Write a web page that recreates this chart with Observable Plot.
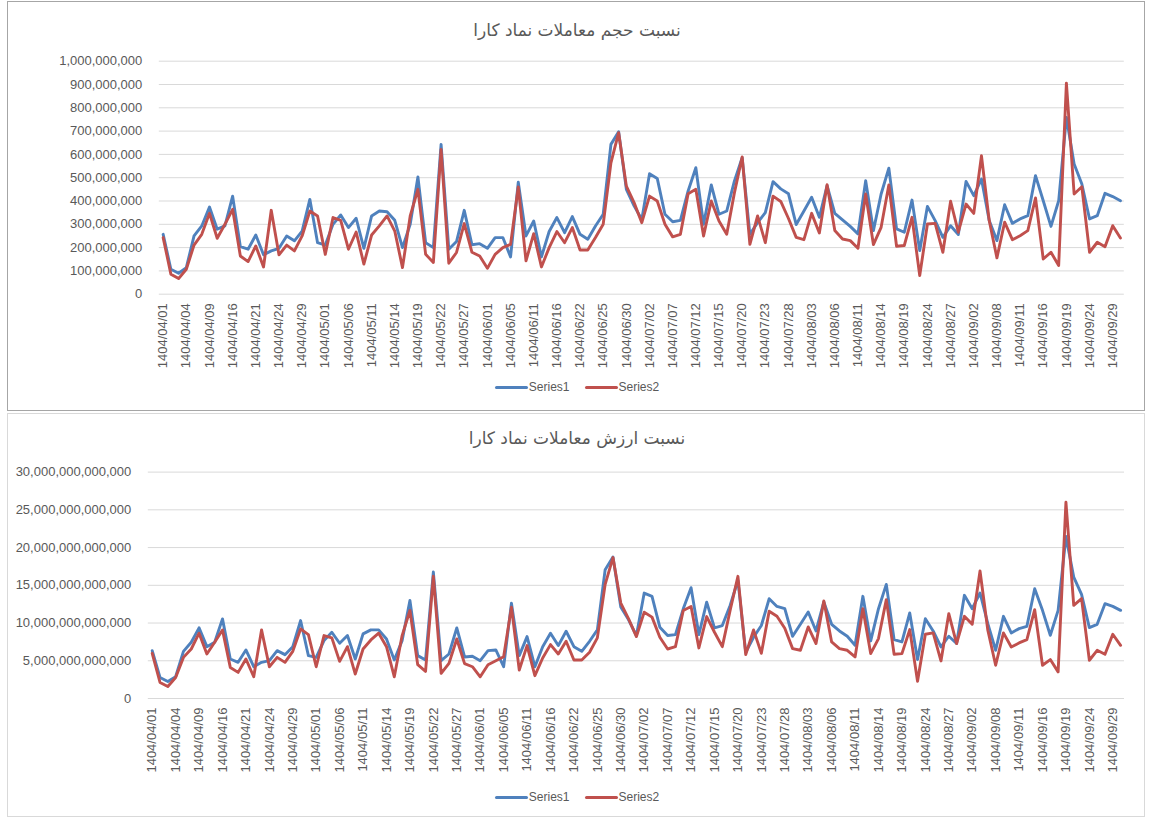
<!DOCTYPE html>
<html>
<head>
<meta charset="utf-8">
<script src="https://cdn.jsdelivr.net/npm/d3@7"></script>
<script src="https://cdn.jsdelivr.net/npm/@observablehq/plot@0.6"></script>
<style>
  html, body { margin: 0; padding: 0; background: #fff; }
  body { width: 1149px; height: 818px; position: relative; overflow: hidden; font-family: "Liberation Sans", Arial, sans-serif; }
  .box { position: absolute; left: 7px; width: 1138px; background: #fff; box-sizing: border-box; }
  #box1 { top: 1px; height: 410px; border: 1px solid #a6a6a6; }
  #box2 { top: 413px; height: 404px; border: 1px solid #d9d9d9; }
  .title { position: absolute; left: 8px; width: 1138px; text-align: center; font-family: "DejaVu Sans", sans-serif; font-size: 17px; color: #595959; direction: rtl; line-height: 22px; }
  .chart { position: absolute; left: 8px; }
  .legend { position: absolute; left: 8px; width: 1138px; display: flex; justify-content: center; align-items: center; font-size: 12px; color: #595959; height: 16px; line-height: 16px; }
  .legend .item { display: flex; align-items: center; margin: 0 7.5px; }
  .legend .sw { width: 33px; height: 3px; border-radius: 1.5px; margin-right: 1px; }
</style>
</head>
<body>
<div class="box" id="box1"></div>
<div class="box" id="box2"></div>
<div class="title" style="top:19px">نسبت حجم معاملات نماد کارا</div>
<div class="chart" id="chart1" style="top:40px"></div>
<div class="legend" style="top:379px" id="legend1"></div>
<div class="title" style="top:427px">نسبت ارزش معاملات نماد کارا</div>
<div class="chart" id="chart2" style="top:455px"></div>
<div class="legend" style="top:789px" id="legend2"></div>
<script>
// ---- Data ----
// Trading dates (every third one is shown as a tick label)
const dates = [
  "1404/04/01","1404/04/02","1404/04/03","1404/04/04","1404/04/07","1404/04/08","1404/04/09","1404/04/10","1404/04/11","1404/04/16",
  "1404/04/17","1404/04/18","1404/04/21","1404/04/22","1404/04/23","1404/04/24","1404/04/25","1404/04/28","1404/04/29","1404/04/30",
  "1404/04/31","1404/05/01","1404/05/04","1404/05/05","1404/05/06","1404/05/07","1404/05/08","1404/05/11","1404/05/12","1404/05/13",
  "1404/05/14","1404/05/15","1404/05/18","1404/05/19","1404/05/20","1404/05/21","1404/05/22","1404/05/25","1404/05/26","1404/05/27",
  "1404/05/28","1404/05/29","1404/06/01","1404/06/03","1404/06/04","1404/06/05","1404/06/08","1404/06/09","1404/06/11","1404/06/12",
  "1404/06/15","1404/06/16","1404/06/17","1404/06/19","1404/06/22","1404/06/23","1404/06/24","1404/06/25","1404/06/26","1404/06/29",
  "1404/06/30","1404/06/31","1404/07/01","1404/07/02","1404/07/05","1404/07/06","1404/07/07","1404/07/08","1404/07/09","1404/07/12",
  "1404/07/13","1404/07/14","1404/07/15","1404/07/16","1404/07/19","1404/07/20","1404/07/21","1404/07/22","1404/07/23","1404/07/26",
  "1404/07/27","1404/07/28","1404/07/29","1404/07/30","1404/08/03","1404/08/04","1404/08/05","1404/08/06","1404/08/07","1404/08/10",
  "1404/08/11","1404/08/12","1404/08/13","1404/08/14","1404/08/17","1404/08/18","1404/08/19","1404/08/20","1404/08/21","1404/08/24",
  "1404/08/25","1404/08/26","1404/08/27","1404/08/28","1404/09/01","1404/09/02","1404/09/04","1404/09/05","1404/09/08","1404/09/09",
  "1404/09/10","1404/09/11","1404/09/12","1404/09/15","1404/09/16","1404/09/17","1404/09/18","1404/09/19","1404/09/22","1404/09/23",
  "1404/09/24","1404/09/25","1404/09/26","1404/09/29","1404/09/30"
];
const tickLabels = [
  "1404/04/01","1404/04/04","1404/04/09","1404/04/16","1404/04/21","1404/04/24","1404/04/29","1404/05/01","1404/05/06","1404/05/11",
  "1404/05/14","1404/05/19","1404/05/22","1404/05/27","1404/06/01","1404/06/05","1404/06/11","1404/06/16","1404/06/22","1404/06/25",
  "1404/06/30","1404/07/02","1404/07/07","1404/07/12","1404/07/15","1404/07/20","1404/07/23","1404/07/28","1404/08/03","1404/08/06",
  "1404/08/11","1404/08/14","1404/08/19","1404/08/24","1404/08/27","1404/09/02","1404/09/08","1404/09/11","1404/09/16","1404/09/19",
  "1404/09/24","1404/09/29"
];
const seriesNames = ["Series1", "Series2"];

// Volume ratio (in millions)
const volumeSeries1 = [
  257,107,90,114,250,293,374,279,293,421, 204,193,254,169,186,197,250,229,271,407,
  221,211,300,340,286,326,197,336,357,354, 317,200,300,503,221,200,643,193,226,360,
  212,217,197,243,243,160,481,250,314,160, 269,329,264,333,257,236,293,343,643,697,
  450,379,321,517,497,343,311,317,443,543, 300,469,343,357,486,586,257,307,350,483,
  452,431,299,357,416,330,466,347,319,291, 259,487,273,430,541,280,266,404,187,377,
  316,244,294,256,484,423,494,316,230,384, 304,323,337,509,401,291,401,759,559,473,
  323,337,433,419,401
];
const volumeSeries2 = [
  243,86,67,107,211,257,347,240,300,364, 164,140,207,117,360,169,211,186,250,357,
  336,171,329,317,193,267,129,254,293,336, 271,114,336,450,171,136,621,133,179,303,
  180,164,111,171,200,214,460,143,260,117, 200,269,221,286,190,190,243,300,564,693,
  464,393,307,421,400,300,246,257,431,450, 250,400,314,257,436,589,214,336,221,421,
  398,325,244,234,347,263,470,273,237,230, 197,430,213,287,469,206,209,330,80,301,
  304,180,399,266,387,347,594,316,156,309, 234,251,273,413,151,180,123,906,430,461,
  180,223,204,294,241
];

// Value ratio (in trillions)
const valueSeries1 = [
  6.34,2.79,2.26,2.88,6.25,7.45,9.36,6.87,7.45,10.55, 5.23,4.79,6.43,4.21,4.79,5.01,6.34,5.81,6.87,10.33,
  5.68,5.45,7.67,8.78,7.32,8.34,5.23,8.56,9.09,9.09, 7.89,5.10,7.67,12.99,5.68,5.10,16.76,5.01,5.90,9.36,
  5.50,5.59,5.01,6.34,6.43,4.21,12.64,5.68,8.20,4.21, 6.87,8.65,7.01,8.91,6.87,6.25,7.58,9.09,17.07,18.76,
  12.11,10.42,8.34,13.97,13.53,9.45,8.34,8.47,11.88,14.68, 8.47,12.77,9.36,9.67,12.33,15.65,6.12,8.12,9.67,13.22,
  12.2,11.9,8.25,9.83,11.46,8.95,12.79,9.83,8.95,8.25, 7.05,13.54,7.63,11.90,15.12,7.80,7.50,11.33,5.16,10.58,
  8.95,6.83,8.25,7.28,13.67,11.90,13.98,9.92,6.39,10.89, 8.69,9.26,9.57,14.55,11.68,8.38,11.68,21.47,16.09,13.80,
  9.39,9.83,12.57,12.21,11.68
];
const valueSeries2 = [
  5.99,2.13,1.60,2.79,5.45,6.56,8.65,5.90,7.45,9.09, 4.12,3.46,5.23,2.88,9.09,4.21,5.45,4.79,6.25,9.22,
  8.47,4.21,8.34,8.03,4.92,6.87,3.24,6.56,7.76,8.65, 6.87,2.88,8.34,11.66,4.48,3.59,16.19,3.33,4.66,7.89,
  4.62,4.21,2.88,4.48,5.01,5.54,12.11,3.77,7.01,3.02, 5.37,7.14,5.90,7.58,5.10,5.10,6.12,8.03,15.12,18.67,
  12.64,10.55,8.20,11.44,10.78,8.12,6.56,6.87,11.66,12.20, 6.70,10.86,8.78,6.87,11.66,16.19,5.81,9.09,5.99,11.57,
  10.9,9.3,6.61,6.39,9.48,7.28,12.92,7.50,6.61,6.39, 5.51,11.90,5.95,7.94,13.10,5.86,5.95,9.13,2.29,8.51,
  8.69,4.98,11.24,7.28,10.89,9.83,16.89,9.04,4.41,8.69, 6.83,7.36,7.80,11.77,4.41,5.16,3.53,26.01,12.35,13.23,
  5.07,6.39,5.86,8.51,7.05
];

const volumeTicks = [0,100e6,200e6,300e6,400e6,500e6,600e6,700e6,800e6,900e6,1000e6];
const valueTicks = [0,5e12,10e12,15e12,20e12,25e12,30e12];

// ---- Build tables ----
const colors = ["#4f81bd", "#c0504d"];
function table(s1, s2, unit) {
  return [s1, s2].map((arr, k) => arr.map((v, i) => ({date: dates[i], value: v * unit, series: seriesNames[k]})));
}
const volData = table(volumeSeries1, volumeSeries2, 1e6);
const valData = table(valueSeries1, valueSeries2, 1e12);

function makeChart(data, ticks, opts) {
  return Plot.plot({
    width: 1136,
    height: opts.height,
    marginTop: opts.mt,
    marginBottom: opts.mb,
    marginLeft: opts.ml,
    marginRight: opts.mr,
    style: {fontFamily: "'Liberation Sans', Arial, sans-serif", fontSize: "13px", color: "#595959", background: "transparent", overflow: "visible"},
    x: {type: "point", domain: dates, padding: 0.5, label: null},
    y: {domain: [ticks[0], ticks[ticks.length - 1]], label: null},
    marks: [
      Plot.gridY(ticks, {stroke: "#d9d9d9", strokeOpacity: 1, strokeWidth: 1}),
      Plot.axisY(ticks, {tickSize: 0, tickPadding: 17, tickFormat: d3.format(",.0f"), fill: "#595959", fontSize: 13, label: null}),
      Plot.axisX(tickLabels, {tickSize: 0, tickPadding: 9, tickRotate: -90, fill: "#595959", fontSize: 13, label: null}),
      ...data.map((d, k) => Plot.lineY(d, {x: "date", y: "value", stroke: colors[k], strokeWidth: 2.9, strokeLinejoin: "round", strokeLinecap: "round"}))
    ]
  });
}

document.getElementById("chart1").appendChild(makeChart(volData, volumeTicks, {height: 340, mt: 20.7, mb: 86.3, ml: 150.8, mr: 20.2}));
document.getElementById("chart2").appendChild(makeChart(valData, valueTicks, {height: 330, mt: 16.6, mb: 87, ml: 139.8, mr: 20}));

function legend(id) {
  const el = document.getElementById(id);
  seriesNames.forEach((name, k) => {
    const item = document.createElement("div");
    item.className = "item";
    const sw = document.createElement("div");
    sw.className = "sw";
    sw.style.background = colors[k];
    const t = document.createElement("span");
    t.textContent = name;
    item.appendChild(sw); item.appendChild(t);
    el.appendChild(item);
  });
}
legend("legend1");
legend("legend2");
</script>
</body>
</html>
